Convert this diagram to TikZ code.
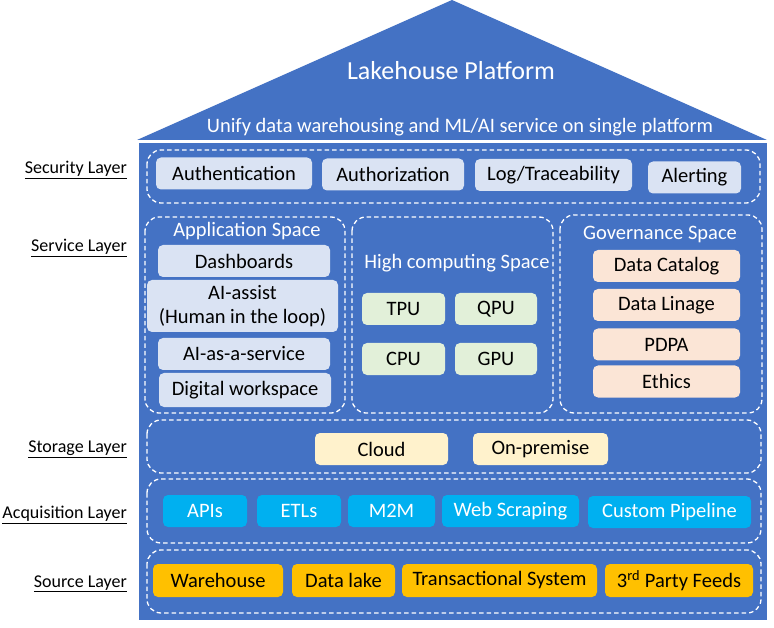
\documentclass[tikz,border=0pt]{standalone}
\usepackage{fontspec}
\setmainfont{Carlito}
\definecolor{house}{HTML}{4472C4}
\definecolor{paleblue}{HTML}{DAE3F3}
\definecolor{palegreen}{HTML}{E2F0D9}
\definecolor{palepeach}{HTML}{FBE5D6}
\definecolor{palecream}{HTML}{FFF2CC}
\definecolor{cyanbox}{HTML}{00B0F0}
\definecolor{goldbox}{HTML}{FFC000}
\begin{document}
\begin{tikzpicture}[x=1pt,y=-1pt,
  box/.style={rounded corners=5pt,inner sep=0pt,minimum height=32pt,font=\fontsize{20.5}{24}\selectfont,align=center},
  zone/.style={draw=white,line width=1.3pt,rounded corners=14pt,dash pattern=on 4.5pt off 3pt},
  layer/.style={anchor=east,inner sep=0pt,font=\fontsize{18}{20}\selectfont},
  title/.style={text=white,inner sep=0pt,font=\fontsize{20.5}{22}\selectfont}]
\useasboundingbox (0,0) rectangle (774,628);
\coordinate (a) at (137,140);
\coordinate (b) at (452,0);
\coordinate (c) at (767,140);
\coordinate (d) at (139,143);
\coordinate (e) at (767,620);
\fill[house](a)--(b)--(c)--cycle;
\fill[house](d) rectangle (e);
\node[text=white,font=\fontsize{26}{28}\selectfont] (roof) at (451,71) {Lakehouse Platform};
\node[title] (unify) at (460,127) {Unify data warehousing and ML/AI service on single platform};

\node[layer] (seclabel) at (127,170) {\underline{Security Layer}};
\node[layer] (svclabel) at (127,248) {\underline{Service Layer}};
\node[layer] (stolabel) at (127,449) {\underline{Storage Layer}};
\node[layer] (acqlabel) at (127,515) {\underline{Acquisition Layer}};
\node[layer] (srclabel) at (127,584) {\underline{Source Layer}};

\draw[zone](147,150) rectangle (760,203);
\draw[zone](145,217) rectangle (345,413);
\draw[zone](352,217) rectangle (553,413);
\draw[zone](560,215) rectangle (762,413);
\draw[zone](147,420) rectangle (761,473);
\draw[zone](147,479) rectangle (761,543);
\draw[zone](147,550) rectangle (761,613);

\node[box,fill=paleblue,minimum width=156pt] (auth) at (234,173.5) {Authentication};
\node[box,fill=paleblue,minimum width=142pt] (authz) at (393,174.5) {Authorization};
\node[box,fill=paleblue,minimum width=157pt] (log) at (553.5,175) {Log/Traceability};
\node[box,fill=paleblue,minimum width=93pt] (alert) at (694.5,177.5) {Alerting};

\node[title] (appspace) at (247,231) {Application Space};
\node[box,fill=paleblue,minimum width=172pt] (dash) at (244,261) {Dashboards};
\node[box,fill=paleblue,minimum width=191pt,minimum height=52pt] (assist) at (242.5,306) {AI-assist\\(Human in the loop)};
\node[box,fill=paleblue,minimum width=172pt] (aiaas) at (244,354) {AI-as-a-service};
\node[box,fill=paleblue,minimum width=172pt,minimum height=34pt] (workspace) at (245,390) {Digital workspace};

\node[title] (hpcspace) at (457,263) {High computing Space};
\node[box,fill=palegreen,minimum width=83pt] (tpu) at (403.5,309) {TPU};
\node[box,fill=palegreen,minimum width=82pt] (qpu) at (496,309) {QPU};
\node[box,fill=palegreen,minimum width=83pt] (cpu) at (403.5,359) {CPU};
\node[box,fill=palegreen,minimum width=82pt] (gpu) at (496,359) {GPU};

\node[title] (govspace) at (660,235) {Governance Space};
\node[box,fill=palepeach,minimum width=147pt] (catalog) at (666.5,266) {Data Catalog};
\node[box,fill=palepeach,minimum width=147pt] (linage) at (666.5,305) {Data Linage};
\node[box,fill=palepeach,minimum width=147pt] (pdpa) at (666.5,344.5) {PDPA};
\node[box,fill=palepeach,minimum width=147pt] (ethics) at (666.5,381.5) {Ethics};

\node[box,fill=palecream,minimum width=133pt] (cloud) at (381.5,449) {Cloud};
\node[box,fill=palecream,minimum width=135pt] (onprem) at (540.5,449) {On-premise};

\node[box,fill=cyanbox,text=white,minimum width=84pt] (apis) at (205,511) {APIs};
\node[box,fill=cyanbox,text=white,minimum width=84pt] (etls) at (299,511) {ETLs};
\node[box,fill=cyanbox,text=white,minimum width=87pt] (m2m) at (391.5,511) {M2M};
\node[box,fill=cyanbox,text=white,minimum width=137pt] (scraping) at (510.5,511) {Web Scraping};
\node[box,fill=cyanbox,text=white,minimum width=163pt] (pipeline) at (669.5,512) {Custom Pipeline};

\node[box,fill=goldbox,minimum width=130pt,minimum height=33pt] (warehouse) at (218,580.5) {Warehouse};
\node[box,fill=goldbox,minimum width=103pt,minimum height=33pt] (lake) at (343.5,580.5) {Data lake};
\node[box,fill=goldbox,minimum width=195pt,minimum height=33pt] (trans) at (499.5,580.5) {Transactional System};
\node[box,fill=goldbox,minimum width=148pt,minimum height=33pt] (feeds) at (679,580.5) {3\textsuperscript{rd} Party Feeds};
\end{tikzpicture}
\end{document}
